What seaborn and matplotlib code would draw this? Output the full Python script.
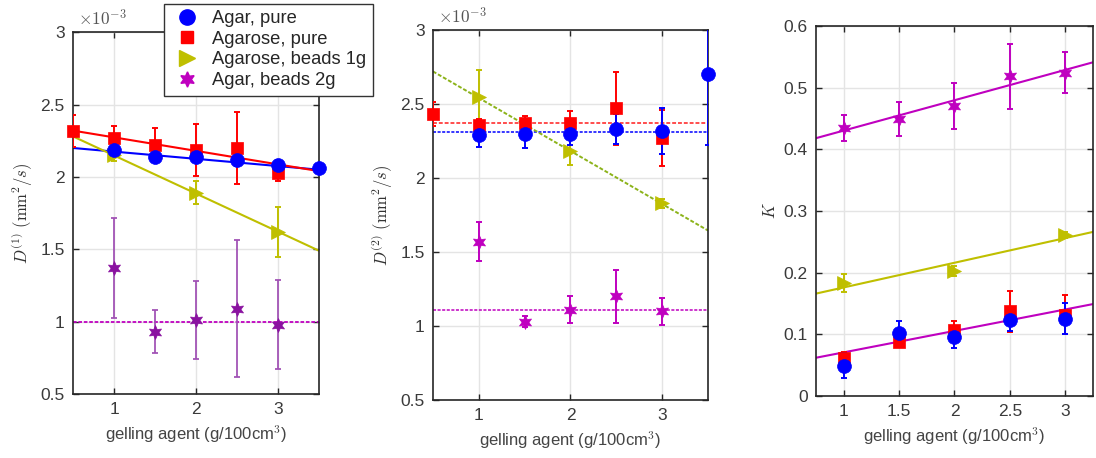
import numpy as np
import seaborn as sns
import matplotlib.pyplot as plt
from matplotlib.lines import Line2D

sns.set_theme(style="whitegrid")
plt.rcParams['font.family'] = ['Liberation Sans', 'DejaVu Sans']
plt.rcParams['mathtext.fontset'] = 'cm'

# series names and colours
names = ['Agar, pure', 'Agarose, pure', 'Agarose, beads 1g', 'Agar, beads 2g']
c_blue = (0, 0, 1)
c_red = (1, 0, 0)
c_olive = (0.75, 0.75, 0)
c_mag = (0.75, 0, 0.75)
c_purple = '#8a12a0'
star = (6, 1, 0)

# ---- panel 1: D(1) x 1e-3
d1_x_blue = [1, 1.5, 2, 2.5, 3, 3.5]
d1_blue = [2.185, 2.137, 2.14, 2.116, 2.085, 2.06]
d1_blue_err = [0.03, 0.03, 0.04, 0.04, 0.03, 0.0]
d1_x_red = [0.5, 1, 1.5, 2, 2.5, 3]
d1_red = [2.316, 2.27, 2.22, 2.185, 2.2, 2.03]
d1_red_err = [0.11, 0.08, 0.12, 0.18, 0.25, 0.06]
d1_x_olive = [1, 2, 3]
d1_olive = [2.15, 1.89, 1.62]
d1_olive_err = [0.04, 0.08, 0.17]
d1_x_mag = [1, 1.5, 2, 2.5, 3]
d1_mag = [1.37, 0.93, 1.01, 1.09, 0.98]
d1_mag_err = [0.345, 0.15, 0.27, 0.475, 0.305]
d1_fit_x = [0.5, 3.5]
d1_fit_blue = [2.2, 2.05]
d1_fit_red = [2.32, 2.04]
d1_fit_olive = [2.28, 1.49]
d1_fit_mag = [1.0, 1.0]

# ---- panel 2: D(2) x 1e-3
d2_x_blue = [1, 1.5, 2, 2.5, 3, 3.5]
d2_blue = [2.29, 2.30, 2.30, 2.33, 2.32, 2.70]
d2_blue_err = [0.08, 0.10, 0.08, 0.10, 0.155, 0.48]
d2_x_red = [0.5, 1, 1.5, 2, 2.5, 3]
d2_red = [2.43, 2.36, 2.37, 2.37, 2.47, 2.27]
d2_red_err = [0.08, 0.04, 0.05, 0.08, 0.245, 0.19]
d2_x_olive = [1, 2, 3]
d2_olive = [2.55, 2.18, 1.83]
d2_olive_err = [0.18, 0.09, 0.03]
d2_x_mag = [1, 1.5, 2, 2.5, 3]
d2_mag = [1.57, 1.03, 1.11, 1.20, 1.10]
d2_mag_err = [0.13, 0.035, 0.09, 0.18, 0.09]
d2_fit_x = [0.5, 3.5]
d2_fit_blue = [2.31, 2.31]
d2_fit_red = [2.37, 2.37]
d2_fit_olive = [2.72, 1.645]
d2_fit_mag = [1.11, 1.11]

# ---- panel 3: K
k_x = [1, 1.5, 2, 2.5, 3]
k_blue = [0.049, 0.102, 0.095, 0.123, 0.125]
k_blue_err = [0.02, 0.02, 0.018, 0.018, 0.025]
k_red = [0.062, 0.088, 0.107, 0.137, 0.132]
k_red_err = [0.01, 0.005, 0.015, 0.033, 0.032]
k_x_olive = [1, 2, 3]
k_olive = [0.183, 0.203, 0.261]
k_olive_err = [0.015, 0.008, 0.005]
k_mag = [0.435, 0.449, 0.47, 0.518, 0.524]
k_mag_err = [0.021, 0.028, 0.037, 0.052, 0.033]
k_fit_x = [0.75, 3.25]
k_fit_olive = [0.166, 0.266]
k_fit_mag_hi = [0.418, 0.541]
k_fit_mag_lo = [0.062, 0.149]

fig = plt.figure(figsize=(10.96, 4.58), dpi=100)
ax1 = fig.add_axes([0.0666, 0.1397, 0.2245, 0.790])
ax2 = fig.add_axes([0.395, 0.1266, 0.251, 0.808])
ax3 = fig.add_axes([0.7445, 0.1354, 0.2527, 0.808])


def series(ax, x, y, err, color, marker, ms, ecolor=None, alpha=1.0):
    ax.errorbar(x, y, yerr=err, fmt='none', ecolor=ecolor or color, elinewidth=1.4,
                capsize=2, capthick=1.4, alpha=alpha, zorder=3)
    sns.scatterplot(x=x, y=y, ax=ax, color=color, marker=marker, s=ms,
                    edgecolor=color, linewidth=0.5, zorder=4, legend=False, clip_on=False)


def fit(ax, x, y, color, ls='-', lw=1.5):
    sns.lineplot(x=x, y=y, ax=ax, color=color, linestyle=ls, linewidth=lw, zorder=2)


dash = (0, (2, 1))

# panel 1
fit(ax1, d1_fit_x, d1_fit_blue, c_blue)
fit(ax1, d1_fit_x, d1_fit_red, c_red)
fit(ax1, d1_fit_x, d1_fit_olive, c_olive)
fit(ax1, d1_fit_x, d1_fit_mag, c_mag, ls=dash, lw=1.3)
series(ax1, d1_x_mag, d1_mag, d1_mag_err, c_purple, star, 100, ecolor='#a050b4', alpha=0.9)
series(ax1, d1_x_olive, d1_olive, d1_olive_err, c_olive, '>', 100)
series(ax1, d1_x_red, d1_red, d1_red_err, c_red, 's', 70)
series(ax1, d1_x_blue, d1_blue, d1_blue_err, c_blue, 'o', 100)

# panel 2
fit(ax2, d2_fit_x, d2_fit_blue, c_blue, ls=dash, lw=1.1)
fit(ax2, d2_fit_x, d2_fit_red, (1, 0.3, 0.3), ls=dash, lw=1.4)
fit(ax2, d2_fit_x, d2_fit_olive, (0.55, 0.7, 0.1), ls=dash, lw=1.4)
fit(ax2, d2_fit_x, d2_fit_mag, c_mag, ls=dash, lw=1.1)
series(ax2, d2_x_mag, d2_mag, d2_mag_err, c_mag, star, 100)
series(ax2, d2_x_olive, d2_olive, d2_olive_err, c_olive, '>', 100)
series(ax2, d2_x_red, d2_red, d2_red_err, c_red, 's', 70)
series(ax2, d2_x_blue, d2_blue, d2_blue_err, c_blue, 'o', 100)

# panel 3
fit(ax3, k_fit_x, k_fit_mag_hi, c_mag)
fit(ax3, k_fit_x, k_fit_olive, c_olive)
fit(ax3, k_fit_x, k_fit_mag_lo, c_mag)
series(ax3, k_x, k_mag, k_mag_err, c_mag, star, 100)
series(ax3, k_x_olive, k_olive, k_olive_err, c_olive, '>', 100)
series(ax3, k_x, k_red, k_red_err, c_red, 's', 70)
series(ax3, k_x, k_blue, k_blue_err, c_blue, 'o', 100)

tick_c = '#3a3a3a'
for ax in (ax1, ax2):
    ax.set_xlim(0.5, 3.5)
    ax.set_ylim(0.5, 3.0)
    ax.set_xticks([1, 2, 3])
    ax.set_yticks([0.5, 1, 1.5, 2, 2.5, 3])
    ax.set_yticklabels(['0.5', '1', '1.5', '2', '2.5', '3'])
    ax.text(0.02, 1.01, r'$\times10^{-3}$', transform=ax.transAxes, fontsize=12.5,
            color='#555555', ha='left', va='bottom')
ax3.set_xlim(0.75, 3.25)
ax3.set_ylim(0, 0.6)
ax3.set_xticks([1, 1.5, 2, 2.5, 3])
ax3.set_xticklabels(['1', '1.5', '2', '2.5', '3'])
ax3.set_yticks([0, 0.1, 0.2, 0.3, 0.4, 0.5, 0.6])
ax3.set_yticklabels(['0', '0.1', '0.2', '0.3', '0.4', '0.5', '0.6'])

ax1.set_ylabel(r'$D^{(1)}\ (\mathrm{mm}^2/s)$', fontsize=12, color='#333333')
ax2.set_ylabel(r'$D^{(2)}\ (\mathrm{mm}^2/s)$', fontsize=12, color='#333333')
ax3.set_ylabel(r'$K$', fontsize=12, color='#333333')

for ax in (ax1, ax2, ax3):
    ax.set_xlabel(r'gelling agent (g/100cm$^3$)', fontsize=12, color='#444444', labelpad=4)
    ax.grid(True, color='#e4e4e4', linewidth=1)
    ax.set_facecolor('white')
    ax.tick_params(axis='both', direction='in', length=4, width=1, colors='#262626',
                   labelsize=12.5, labelcolor=tick_c, top=True, right=True, bottom=True, left=True, pad=6)
    for sp in ax.spines.values():
        sp.set_color('#262626')
        sp.set_linewidth(1.2)
    ax.set_axisbelow(True)

handles = [
    Line2D([], [], linestyle='none', marker='o', markersize=11, color=c_blue),
    Line2D([], [], linestyle='none', marker='s', markersize=9, color=c_red),
    Line2D([], [], linestyle='none', marker='>', markersize=11, color=c_olive),
    Line2D([], [], linestyle='none', marker=star, markersize=11, color=c_mag),
]
leg = fig.legend(handles, names, loc='upper left', bbox_to_anchor=(0.141, 1.012),
                 fontsize=13.2, frameon=True, fancybox=False, framealpha=1,
                 handletextpad=0.5, labelspacing=0.2, borderpad=0.35, handlelength=1.8)
leg.get_frame().set_edgecolor('#333333')
leg.get_frame().set_linewidth(1.0)
leg.set_zorder(10)

fig.savefig('out.png', dpi=100)
